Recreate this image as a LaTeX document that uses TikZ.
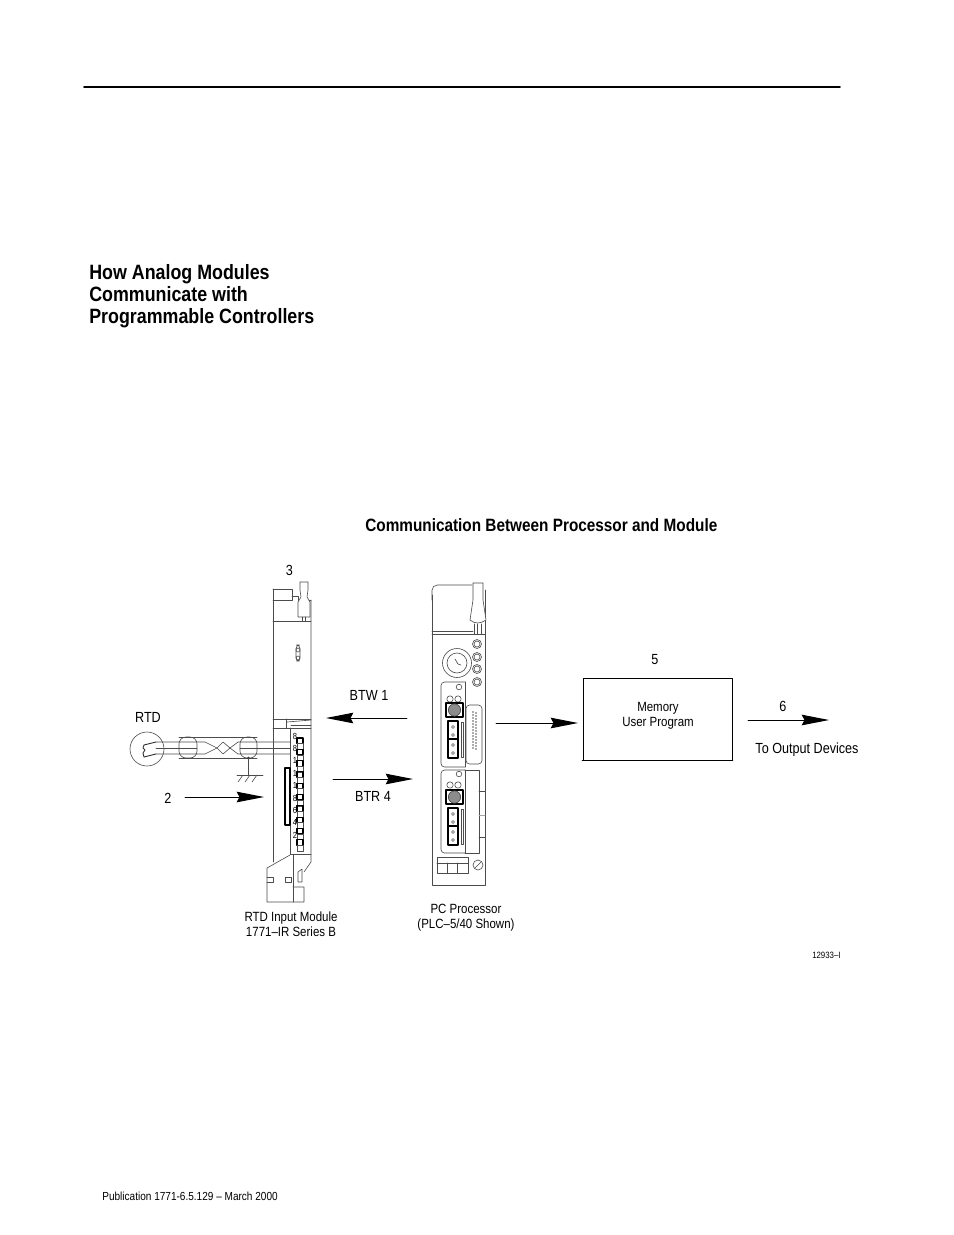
\documentclass[tikz,border=0pt]{standalone}
\usepackage{fontspec}
\setmainfont[FakeStretch=0.86]{Liberation Sans}
\usetikzlibrary{arrows.meta}
\tikzset{
  part/.style={draw=black!70, line width=0.35pt},
  wire/.style={draw=black!80, line width=0.5pt},
  flow/.style={draw=black, line width=0.5pt, -{Stealth[length=15.5pt,width=6pt,inset=1.5pt]}},
  lab/.style={font=\fontsize{8.35}{9}\selectfont, align=center, inner sep=0pt},
  smalllab/.style={font=\fontsize{7.6}{8.5}\selectfont, align=center, inner sep=0pt},
  head/.style={font=\fontsize{11.8}{12.5}\selectfont\bfseries, align=left, inner sep=0pt}
}
\begin{document}
\begin{tikzpicture}[x=0.02cm, y=-0.02cm, line join=round, line cap=round]
\useasboundingbox (0,0) rectangle (954,1235);
\fill[white] (0,0) rectangle (954,1235);
% Page rule and texts
\draw[line width=1pt] (84,87) -- (840,87);
\node[head, anchor=north west] (title) at (89,264) {How Analog Modules\\Communicate with\\Programmable Controllers};
\node[head, anchor=base west, font=\fontsize{10.15}{12}\selectfont\bfseries] (caption) at (365,531) {Communication Between Processor and Module};
\node[smalllab, anchor=base west, font=\fontsize{6.65}{8}\selectfont] (pub) at (102,1200) {Publication 1771-6.5.129 -- March 2000};
\node[font=\fontsize{5.2}{6}\selectfont, inner sep=0pt, anchor=base east] (fig) at (841,958) {12933--I};
% Labels
\node[lab] (numThree) at (289.5,570) {3};
\node[lab] (rtdLabel) at (148,717) {RTD};
\node[lab] (numTwo) at (168,798) {2};
\node[lab] (btwLabel) at (369,695) {BTW 1};
\node[lab] (btrLabel) at (373,796) {BTR 4};
\node[lab] (numFive) at (655,660) {5};
\node[lab] (numSix) at (783,706) {6};
\node[lab] (outLabel) at (807,750) {To Output Devices};
\node[smalllab] (moduleLabel) at (291,924) {RTD Input Module\\1771--IR Series B};
\node[smalllab] (plcLabel) at (466,917.5) {PC Processor\\(PLC--5/40 Shown)};
% RTD module
\draw[part] (273,589) -- (273,862);
\draw[part] (311,600) -- (311,862) -- (304,872);
\draw[part] (273,589) -- (292,589) -- (292,600) -- (273,600);
\draw[part] (292,596) -- (298,596) -- (298,600) -- (311,600);
\draw[part] (273,621) -- (311,621);
\draw[part, fill=white] (300,582) -- (308,582) -- (308,590) -- (307,597) -- (310,602) -- (310,617) -- (298,617) -- (298,602) -- (301,597) -- (300,590) -- cycle;
\draw[part] (302,617) -- (302,621);
\draw[part] (305,617) -- (305,621);
\draw[part, rounded corners=2pt] (296,645) rectangle (300,661);
\draw[part] (298,650) circle (2);
\draw[part] (298,658) circle (2);
\draw[part] (273,719) -- (311,719);
\draw[part] (273,728) -- (311,728);
\draw[part] (286,719) -- (286,728);
\draw[part] (287,722) -- (311,720);
\draw[part] (291,725) -- (311,725);
\draw[part] (290,728) -- (290,854) -- (311,854);
% Terminal block
\draw[line width=0.6pt] (285,768) rectangle (290,825);
\foreach \ty in {0,1,...,9}{
  \draw[black, line width=0.6pt] (297,{738+\ty*11.3}) rectangle (303,{743.5+\ty*11.3});
  \draw[part] (297,{743.5+\ty*11.3}) rectangle (303,{749.3+\ty*11.3});
}
\foreach \tnum [count=\ti from 0] in {8,8,1,1,1,8,6,4,2}{
  \node[font=\fontsize{5}{5}\selectfont, inner sep=0pt] (tn\ti) at (295,{736+\ti*12.4}) {\tnum};
}
% Lower latch of RTD module
\draw[part] (290,855) -- (267,868) -- (267,902) -- (304,902) -- (304,887) -- (293,887);
\draw[part] (285,877) rectangle (291,882);
\draw[part] (298,882) -- (298,872) -- (302,869) -- (302,882) -- cycle;
\draw[part] (267,877) -- (273,877) -- (273,882) -- (267,882);
\draw[part] (293,855) -- (293,902);
% RTD and cable
\draw[part] (147,749) circle (17);
\draw[wire] (144,745) -- (156,742);
\draw[wire] (144,757) -- (156,754);
\draw[wire] (144,745) -- (143,748) -- (145,750) -- (143,753) -- (144,757);
\draw[part] (156,742) -- (205,742) -- (217,748) -- (223,754) -- (230,748) -- (238,742) -- (290,742);
\draw[part] (156,754) -- (205,754) -- (217,748) -- (223,742) -- (230,748) -- (238,754) -- (290,754);
\draw[part] (156,748) -- (197,748);
\draw[part] (240,748) -- (290,748);
\draw[part] (179,737) -- (257,737);
\draw[part] (179,758) -- (257,758);
\draw[part, rounded corners=4pt] (179,737) rectangle (197,758);
\draw[part, rounded corners=4pt] (240,737) rectangle (257,758);
\fill[black!80] (248.5,758) circle (1.5);
\draw[part] (248.5,758) -- (248.5,775);
\draw[part] (237,775) -- (263,775);
\foreach \gx in {243,250,257}{
  \draw[part] (\gx,775) -- ({\gx-5},782);
}
% Processor
\draw[part, rounded corners=3pt] (472,585) -- (432,585) -- (432,600);
\draw[part] (432,595) -- (432,885) -- (485,885) -- (485,590);
\draw[part] (432,631) -- (473,631);
\draw[part] (432,634) -- (485,634);
\draw[part, fill=white] (473,583) -- (483,583) -- (483,600) -- (486,620) .. controls (480,624) and (475,624) .. (470,620) -- (473,600) -- cycle;
\foreach \hx in {474,477,481}{
  \draw[part] (\hx,624) -- (\hx,634);
}
\draw[part] (457,663) circle (14.5);
\draw[part] (457,663) circle (10);
\draw[part] (455,659) -- (458,664) -- (461,665);
\foreach \ly in {644,657,669,682}{
  \draw[part] (477,\ly) circle (4.5);
  \draw[part] (477,\ly) circle (3);
}
% Upper channel
\draw[part, rounded corners=2pt] (465,682) -- (441,682) -- (441,767) -- (465,767);
\draw[part] (465,682) -- (465,767);
\draw[part] (459,687) circle (2.8);
\draw[part] (450,699) circle (3.2);
\draw[part] (458,699) circle (3.2);
\draw[line width=0.6pt] (446,703) rectangle (463,717);
\node[draw=black!70, circle, inner sep=0pt, minimum size=7pt, fill=black!45] (keyUp) at (454.5,710) {};
\draw[line width=0.6pt] (448,721) rectangle (458,739);
\draw[line width=0.6pt] (448,739) rectangle (458,758);
\foreach \py in {727,735,745,753}{
  \draw[part] (453,\py) circle (1.5);
}
\draw[part] (461,722) rectangle (463,757);
\draw[part, rounded corners=2pt] (466,705) rectangle (482,764);
\foreach \py in {712,715,...,750}{
  \fill[black!65] (473,\py) circle (0.8);
  \fill[black!65] (476,{\py+1}) circle (0.8);
}
% Lower channel
\draw[part, rounded corners=2pt] (465,770) -- (441,770) -- (441,853) -- (465,853);
\draw[part] (465,770) -- (479,770) -- (479,853) -- (465,853);
\draw[part] (465,770) -- (465,853);
\draw[part] (479,791) -- (485,791);
\draw[part, black!35] (479,815) -- (485,815);
\draw[part] (479,837) -- (485,837);
\draw[part] (459,774) circle (2.8);
\draw[part] (450,785) circle (3.2);
\draw[part] (458,785) circle (3.2);
\draw[line width=0.6pt] (446,790) rectangle (463,804);
\node[draw=black!70, circle, inner sep=0pt, minimum size=7pt, fill=black!45] (keyLow) at (454.5,797) {};
\draw[line width=0.6pt] (448,808) rectangle (458,826);
\draw[line width=0.6pt] (448,826) rectangle (458,845);
\foreach \py in {814,822,832,840}{
  \draw[part] (453,\py) circle (1.5);
}
\draw[part] (461,809) rectangle (463,844);
% Bottom of processor
\draw[part] (437,857) rectangle (468,873);
\draw[part] (437,863) -- (468,863);
\draw[part] (447,863) -- (447,873);
\draw[part] (457,863) -- (457,873);
\draw[part] (478,865) circle (5);
\draw[part] (475,868) -- (481,862);
% Memory block
\node[draw=black, line width=0.5pt, minimum width=149*0.02cm, minimum height=82*0.02cm, inner sep=0pt] (memory) at (657.5,719) {};
\draw[line width=1pt] (memory.south west) -- (memory.south east);
\node[smalllab] (memoryText) at (658,716) {Memory\\User Program};
% Arrows between the blocks
\coordinate (btwStart) at (407,718);
\coordinate (btwEnd) at (326,718);
\coordinate (btrStart) at (333,779);
\coordinate (btrEnd) at (413,779);
\coordinate (rtdStart) at (185,797);
\coordinate (rtdEnd) at (264,797);
\coordinate (plcStart) at (496,723);
\coordinate (plcEnd) at (578,723);
\coordinate (outStart) at (748,720);
\coordinate (outEnd) at (829,720);
\draw[flow] (btwStart) -- (btwEnd);
\draw[flow] (btrStart) -- (btrEnd);
\draw[flow] (rtdStart) -- (rtdEnd);
\draw[flow] (plcStart) -- (plcEnd);
\draw[flow] (outStart) -- (outEnd);
\end{tikzpicture}
\end{document}
